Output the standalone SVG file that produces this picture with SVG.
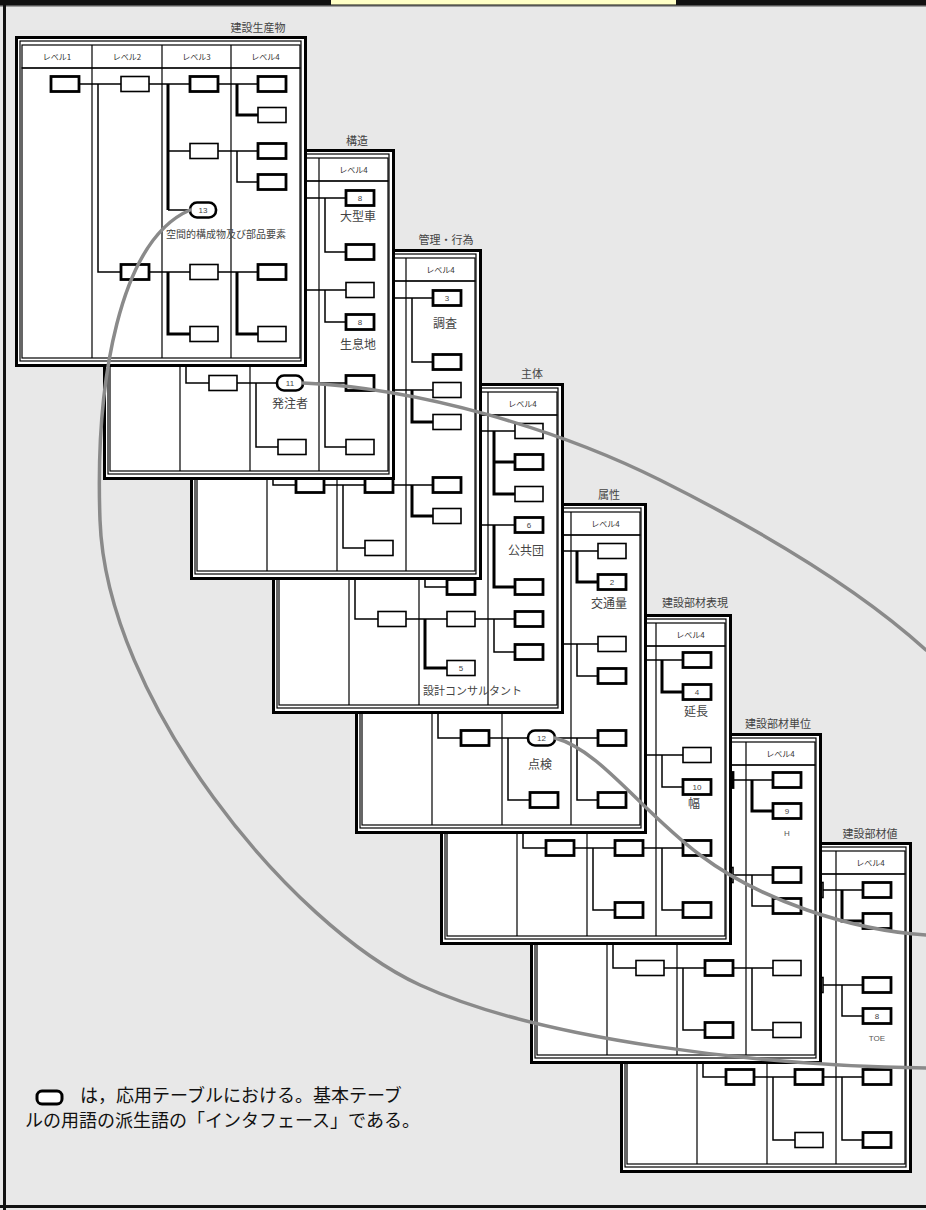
<svg xmlns="http://www.w3.org/2000/svg" xmlns:xlink="http://www.w3.org/1999/xlink" width="926" height="1210" viewBox="0 0 926 1210">
<style>
.fr{fill:#fff;stroke:#000;stroke-width:3}
.in{fill:none;stroke:#000;stroke-width:1.2}
.ln{fill:none;stroke:#000;stroke-width:1.5}
.lt{fill:none;stroke:#000;stroke-width:3}
.bx{fill:#fff;stroke:#000;stroke-width:1.6}
.bh{fill:#fff;stroke:#000;stroke-width:2.8}
.el{fill:#fff;stroke:#000;stroke-width:2.6}
.hd{font-family:"Noto Sans CJK JP",sans-serif;font-size:8px;fill:#333;text-anchor:middle}
.ti{font-family:"Noto Sans CJK JP",sans-serif;font-size:11px;fill:#444;text-anchor:middle}
.lb{font-family:"Noto Sans CJK JP",sans-serif;font-size:12px;fill:#444;text-anchor:middle}
.ls{font-family:"Noto Sans CJK JP",sans-serif;font-size:10px;fill:#444}
.ll{font-family:"Noto Sans CJK JP",sans-serif;font-size:11px;fill:#444}
.nm{font-family:"Liberation Sans",sans-serif;font-size:8px;fill:#444;text-anchor:middle}
.sm{font-family:"Liberation Sans",sans-serif;font-size:8px;fill:#555;text-anchor:middle}
.cv{fill:none;stroke:#8a8a8a;stroke-width:3.5;stroke-linecap:round}
.lg{font-family:"Noto Sans CJK JP",sans-serif;font-size:18px;fill:#111}
</style>
<defs>
<g id="tbl">
<rect class="fr" x="1.5" y="1.5" width="289" height="328"/>
<rect class="in" x="5" y="5" width="281" height="320"/>
<rect class="in" x="7" y="9" width="278" height="23"/>
<rect class="in" x="7" y="32" width="278" height="290"/>
<path class="in" d="M77,9V322M147,9V322M216,9V322"/>
<text class="hd" x="42" y="24">レベル1</text>
<text class="hd" x="112" y="24">レベル2</text>
<text class="hd" x="181.5" y="24">レベル3</text>
<text class="hd" x="250.5" y="24">レベル4</text>
</g>
</defs>
<rect x="0" y="0" width="926" height="1210" fill="#e8e8e8"/>
<rect x="0" y="0" width="926" height="5" fill="#111"/>
<rect x="331" y="0" width="345" height="4.5" fill="#ffffc6"/>
<rect x="0" y="5" width="926" height="1.5" fill="#555"/>
<rect x="3" y="0" width="3" height="1210" fill="#111"/>
<rect x="0" y="1205" width="926" height="3" fill="#111"/>

<g id="t8" transform="translate(620,842)">
<use xlink:href="#tbl"/>
<text class="ti" x="250" y="-4">建設部材値</text>
<path class="ln" d="M50,48H243M153,48V143H243M222,143V174H243M83,48V235H243M153,235V298H175M222,235V298H243"/>
<path class="lt" d="M222,48V79H243"/>
<rect class="bx" x="36" y="40.5" width="28" height="15"/><rect class="bx" x="106" y="40.5" width="28" height="15"/><rect class="bx" x="175" y="40.5" width="28" height="15"/><rect class="bh" x="243" y="40.5" width="28" height="15"/>
<rect class="bh" x="243" y="71.5" width="28" height="15"/>
<rect class="bx" x="175" y="135.5" width="28" height="15"/><rect class="bh" x="243" y="135.5" width="28" height="15"/>
<rect class="bh" x="243" y="166.5" width="28" height="15"/><text class="nm" x="257" y="177">8</text>
<text class="sm" x="257" y="199">TOE</text>
<rect class="bh" x="106" y="227.5" width="28" height="15"/><rect class="bh" x="175" y="227.5" width="28" height="15"/><rect class="bh" x="243" y="227.5" width="28" height="15"/>
<rect class="bx" x="175" y="290.5" width="28" height="15"/><rect class="bh" x="243" y="290.5" width="28" height="15"/>
</g>

<g id="t7" transform="translate(530,733)">
<use xlink:href="#tbl"/>
<text class="ti" x="248" y="-5">建設部材単位</text>
<path class="ln" d="M50,47H243M153,47V142H243M222,142V173H243M83,47V235H243M153,235V297H175M222,235V297H243"/>
<path class="lt" d="M222,47V78H243"/>
<rect class="bx" x="36" y="39.5" width="28" height="15"/><rect class="bx" x="106" y="39.5" width="28" height="15"/><rect class="bh" x="175" y="39.5" width="28" height="15"/><rect class="bh" x="243" y="39.5" width="28" height="15"/>
<rect class="bh" x="243" y="70.5" width="28" height="15"/><text class="nm" x="257" y="81">9</text>
<text class="sm" x="257" y="103">H</text>
<rect class="bx" x="175" y="134.5" width="28" height="15"/><rect class="bh" x="243" y="134.5" width="28" height="15"/>
<rect class="bh" x="243" y="165.5" width="28" height="15"/>
<rect class="bx" x="106" y="227.5" width="28" height="15"/><rect class="bh" x="175" y="227.5" width="28" height="15"/><rect class="bx" x="243" y="227.5" width="28" height="15"/>
<rect class="bh" x="175" y="289.5" width="28" height="15"/><rect class="bx" x="243" y="289.5" width="28" height="15"/>
</g>

<g id="t6" transform="translate(440,614)">
<use xlink:href="#tbl"/>
<text class="ti" x="255" y="-7">建設部材表現</text>
<path class="ln" d="M50,46H243M153,46V141H243M222,141V173H243M83,46V234H243M153,234V296H175M222,234V296H243"/>
<path class="lt" d="M222,46V78H243"/>
<rect class="bx" x="36" y="38.5" width="28" height="15"/><rect class="bx" x="106" y="38.5" width="28" height="15"/><rect class="bx" x="175" y="38.5" width="28" height="15"/><rect class="bh" x="243" y="38.5" width="28" height="15"/>
<rect class="bh" x="243" y="70.5" width="28" height="15"/><text class="nm" x="257" y="81">4</text>
<text class="lb" x="256" y="102">延長</text>
<rect class="bx" x="175" y="133.5" width="28" height="15"/><rect class="bx" x="243" y="133.5" width="28" height="15"/>
<rect class="bh" x="243" y="165.5" width="28" height="15"/><text class="nm" x="257" y="176">10</text>
<text class="lb" x="254" y="194">幅</text>
<rect class="bh" x="106" y="226.5" width="28" height="15"/><rect class="bh" x="175" y="226.5" width="28" height="15"/><rect class="bh" x="243" y="226.5" width="28" height="15"/>
<rect class="bh" x="175" y="288.5" width="28" height="15"/><rect class="bh" x="243" y="288.5" width="28" height="15"/>
</g>

<g id="t5" transform="translate(355,503)">
<use xlink:href="#tbl"/>
<text class="ti" x="254" y="-4">属性</text>
<path class="ln" d="M50,48H243M153,48V141H243M222,141V173H243M83,48V235H243M153,235V297H175M222,235V297H243"/>
<path class="lt" d="M222,48V79H243"/>
<rect class="bx" x="36" y="40.5" width="28" height="15"/><rect class="bx" x="106" y="40.5" width="28" height="15"/><rect class="bx" x="175" y="40.5" width="28" height="15"/><rect class="bx" x="243" y="40.5" width="28" height="15"/>
<rect class="bh" x="243" y="71.5" width="28" height="15"/><text class="nm" x="257" y="82">2</text>
<text class="lb" x="254" y="105">交通量</text>
<rect class="bx" x="175" y="133.5" width="28" height="15"/><rect class="bx" x="243" y="133.5" width="28" height="15"/>
<rect class="bh" x="243" y="165.5" width="28" height="15"/>
<rect class="bh" x="106" y="227.5" width="28" height="15"/>
<rect class="el" x="173" y="227.5" width="27" height="15" rx="7"/><text class="nm" x="186.5" y="238">12</text>
<text class="lb" x="185" y="266">点検</text>
<rect class="bh" x="243" y="227.5" width="28" height="15"/>
<rect class="bh" x="175" y="289.5" width="28" height="15"/><rect class="bh" x="243" y="289.5" width="28" height="15"/>
</g>

<g id="t4" transform="translate(272,383)">
<use xlink:href="#tbl"/>
<text class="ti" x="260" y="-5">主体</text>
<path class="ln" d="M50,48H243M153,48V204H175M153,142H243M83,48V236H243M222,236V269H243"/>
<path class="lt" d="M222,48V111H243M222,79H243M222,142V204H243M153,236V285H175"/>
<rect class="bx" x="36" y="40.5" width="28" height="15"/><rect class="bx" x="106" y="40.5" width="28" height="15"/><rect class="bx" x="175" y="40.5" width="28" height="15"/><rect class="bx" x="243" y="40.5" width="28" height="15"/>
<rect class="bh" x="243" y="71.5" width="28" height="15"/>
<rect class="bx" x="243" y="103.5" width="28" height="15"/>
<rect class="bx" x="175" y="134.5" width="28" height="15"/>
<rect class="bh" x="243" y="134.5" width="28" height="15"/><text class="nm" x="257" y="145">6</text>
<text class="lb" x="254" y="172">公共団</text>
<rect class="bh" x="175" y="196.5" width="28" height="15"/><rect class="bh" x="243" y="196.5" width="28" height="15"/>
<rect class="bx" x="106" y="228.5" width="28" height="15"/><rect class="bx" x="175" y="228.5" width="28" height="15"/><rect class="bh" x="243" y="228.5" width="28" height="15"/>
<rect class="bh" x="243" y="261.5" width="28" height="15"/>
<rect class="bx" x="175" y="277.5" width="28" height="15"/><text class="nm" x="189" y="288">5</text>
<text class="ll" x="151" y="312">設計コンサルタント</text>
</g>

<g id="t3" transform="translate(190,249)">
<use xlink:href="#tbl"/>
<text class="ti" x="256" y="-5">管理・行為</text>
<path class="ln" d="M50,49H243M83,49V236H243M153,49V141H243M222,49V113H243M153,236V299H175"/>
<path class="lt" d="M222,141V173H243M222,236V267H243"/>
<rect class="bx" x="36" y="41.5" width="28" height="15"/><rect class="bx" x="106" y="41.5" width="28" height="15"/><rect class="bx" x="175" y="41.5" width="28" height="15"/>
<rect class="bh" x="243" y="41.5" width="28" height="15"/><text class="nm" x="257" y="52">3</text>
<text class="lb" x="255" y="79">調査</text>
<rect class="bh" x="243" y="105.5" width="28" height="15"/>
<rect class="bx" x="175" y="133.5" width="28" height="15"/><rect class="bx" x="243" y="133.5" width="28" height="15"/>
<rect class="bx" x="243" y="165.5" width="28" height="15"/>
<rect class="bh" x="106" y="228.5" width="28" height="15"/><rect class="bh" x="175" y="228.5" width="28" height="15"/><rect class="bh" x="243" y="228.5" width="28" height="15"/>
<rect class="bx" x="243" y="259.5" width="28" height="15"/>
<rect class="bx" x="175" y="291.5" width="28" height="15"/>
</g>

<g id="t2" transform="translate(103,149)">
<use xlink:href="#tbl"/>
<text class="ti" x="254" y="-4">構造</text>
<path class="ln" d="M50,49H243M83,49V234H243M153,49V141H243M222,49V103H243M222,141V173H243M153,234V298H175M222,234V298H243"/>
<rect class="bx" x="36" y="41.5" width="28" height="15"/><rect class="bx" x="106" y="41.5" width="28" height="15"/><rect class="bx" x="175" y="41.5" width="28" height="15"/>
<rect class="bh" x="243" y="41.5" width="28" height="15"/><text class="nm" x="257" y="52">8</text>
<text class="lb" x="255" y="72">大型車</text>
<rect class="bh" x="243" y="95.5" width="28" height="15"/>
<rect class="bx" x="175" y="133.5" width="28" height="15"/><rect class="bx" x="243" y="133.5" width="28" height="15"/>
<rect class="bh" x="243" y="165.5" width="28" height="15"/><text class="nm" x="257" y="176">8</text>
<text class="lb" x="255" y="200">生息地</text>
<rect class="bx" x="106" y="226.5" width="28" height="15"/>
<rect class="el" x="174" y="226.5" width="26" height="15" rx="7"/><text class="nm" x="187" y="237">11</text>
<text class="lb" x="187" y="259">発注者</text>
<rect class="bh" x="243" y="226.5" width="28" height="15"/>
<rect class="bx" x="175" y="290.5" width="28" height="15"/><rect class="bx" x="243" y="290.5" width="28" height="15"/>
</g>

<g id="t1" transform="translate(15,36)">
<use xlink:href="#tbl"/>
<text class="ti" x="243" y="-4">建設生産物</text>
<path class="ln" d="M50,48H243M83,48V236H243M153,115H243M153,174H176M222,115V146H243M153,298H175M222,298H243"/>
<path class="lt" d="M153,48V174M153,236V298H175M222,48V79H243M222,236V298H243"/>
<rect class="bh" x="36" y="40.5" width="28" height="15"/><rect class="bx" x="106" y="40.5" width="28" height="15"/><rect class="bh" x="175" y="40.5" width="28" height="15"/><rect class="bh" x="243" y="40.5" width="28" height="15"/>
<rect class="bx" x="243" y="71.5" width="28" height="15"/>
<rect class="bx" x="175" y="107.5" width="28" height="15"/><rect class="bh" x="243" y="107.5" width="28" height="15"/>
<rect class="bh" x="243" y="138.5" width="28" height="15"/>
<rect class="el" x="175" y="166.5" width="26" height="15" rx="7"/><text class="nm" x="188" y="177">13</text>
<text class="ls" x="151" y="202">空間的構成物及び部品要素</text>
<rect class="bh" x="106" y="228.5" width="28" height="15"/><rect class="bx" x="175" y="228.5" width="28" height="15"/><rect class="bh" x="243" y="228.5" width="28" height="15"/>
<rect class="bx" x="175" y="290.5" width="28" height="15"/><rect class="bx" x="243" y="290.5" width="28" height="15"/>
</g>

<g id="connectors">
<path class="cv" d="M190,210C120,240 95,380 100,520C106,700 290,925 420,985C540,1040 760,1066 926,1068"/>
<path class="cv" d="M303,383C420,388 560,430 660,480C760,530 860,590 926,650"/>
<path class="cv" d="M555,738C600,750 640,810 700,855C760,900 850,930 926,935"/>
</g>

<g id="legend">
<rect x="37" y="1091" width="25" height="13" rx="5" fill="#fff" stroke="#000" stroke-width="3"/>
<text class="lg" x="80" y="1102">は，応用テーブルにおける。基本テーブ</text>
<text class="lg" x="25" y="1127">ルの用語の派生語の「インタフェース」である。</text>
</g>
</svg>
